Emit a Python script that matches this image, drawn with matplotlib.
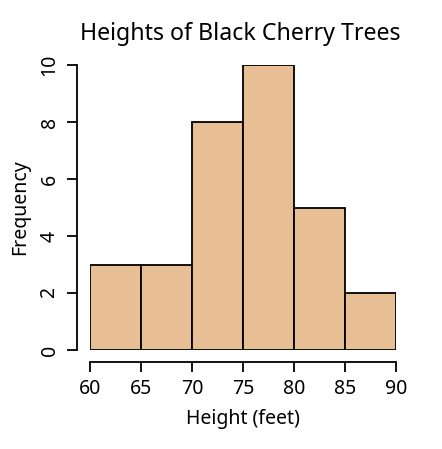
import numpy as np
import matplotlib
matplotlib.use("Agg")
import matplotlib.pyplot as plt

plt.rcParams['font.family'] = ['Noto Sans', 'DejaVu Sans']

# histogram of tree heights (feet)
bin_edges = [60, 65, 70, 75, 80, 85, 90]
counts = [3, 3, 8, 10, 5, 2]
bar_color = '#E8BF95'

fig = plt.figure(figsize=(4.42, 4.49), dpi=100)
ax = fig.add_axes([90/442, (449-350)/449, (396-90)/442, (350-65)/449])

ax.bar(bin_edges[:-1], counts, width=np.diff(bin_edges), align='edge',
       facecolor=bar_color, edgecolor='black', linewidth=1.3)

ax.set_xlim(60, 90)
ax.set_ylim(0, 10)
ax.set_xticks(bin_edges)
ax.set_yticks([0, 2, 4, 6, 8, 10])

for side in ['top', 'right']:
    ax.spines[side].set_visible(False)
ax.spines['left'].set_position(('outward', 9.4))
ax.spines['bottom'].set_position(('outward', 8.6))
ax.spines['left'].set_bounds(0, 10)
ax.spines['bottom'].set_bounds(60, 90)
for side in ['left', 'bottom']:
    ax.spines[side].set_linewidth(1.3)
ax.tick_params(length=7.5, width=1.3, labelsize=14, pad=5)
ax.tick_params(axis='y', labelrotation=90)
for lbl in ax.get_yticklabels():
    lbl.set_verticalalignment('center')

ax.set_xlabel('Height (feet)', fontsize=14, labelpad=7)
ax.set_ylabel('Frequency', fontsize=14, labelpad=7)
ax.set_title('Heights of Black Cherry Trees', fontsize=16.7, pad=18, x=0.49)

fig.savefig('out.png', dpi=100)
